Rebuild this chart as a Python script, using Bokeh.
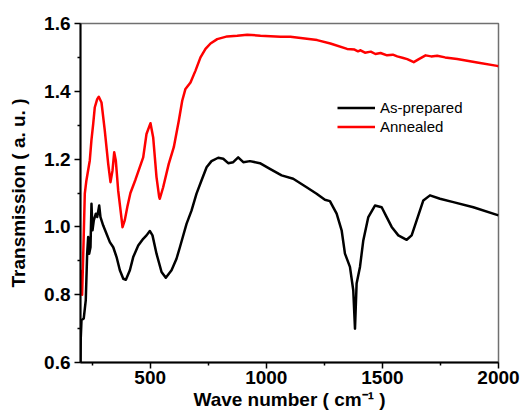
from bokeh.plotting import figure
from bokeh.models import Range1d, FixedTicker, Legend, LegendItem, PrintfTickFormatter
from bokeh.embed import file_html
from bokeh.resources import INLINE

# As-prepared (black)
asprep_x = [200, 201, 204.3, 214, 222.6, 228.7, 233, 237.3, 243, 247.3, 251.7, 257.3, 266, 272,
            280.6, 286, 297.8, 312, 326.4, 341, 355.3, 369.5, 384.2, 395.4, 412.6, 427, 448.6,
            470, 484.2, 498.4, 510, 527.3, 549, 567.4, 592, 613.4, 628, 656.6, 678, 699.6, 721,
            743, 764, 793, 814.7, 836, 857.6, 879, 901, 929.6, 972.6, 1015.7, 1066, 1116, 1173.6,
            1216.7, 1252.5, 1274, 1303, 1324.5, 1338.8, 1360.3, 1374.6, 1382, 1389, 1403.5,
            1417.8, 1439.4, 1468, 1497, 1518.5, 1540, 1568.6, 1604.6, 1626, 1647.6, 1676.3,
            1705, 1748, 1805.6, 1891.7, 2000]
asprep_y = [0.60, 0.67, 0.725, 0.73, 0.783, 0.921, 0.97, 0.921, 0.94, 1.068, 0.99, 1.019, 1.039,
            1.029, 1.063, 1.029, 1.004, 0.98, 0.955, 0.94, 0.911, 0.872, 0.847, 0.844, 0.872,
            0.911, 0.945, 0.965, 0.975, 0.988, 0.975, 0.921, 0.867, 0.850, 0.872, 0.906, 0.940,
            1.009, 1.048, 1.098, 1.137, 1.176, 1.194, 1.204, 1.201, 1.188, 1.191, 1.205, 1.191,
            1.194, 1.188, 1.171, 1.152, 1.142, 1.117, 1.098, 1.080, 1.076, 1.039, 0.990, 0.921,
            0.882, 0.813, 0.700, 0.833, 0.882, 0.960, 1.029, 1.063, 1.058, 1.029, 1.0, 0.975,
            0.962, 0.975, 1.019, 1.078, 1.093, 1.083, 1.073, 1.058, 1.034]

# Annealed (red)
anneal_x = [200, 204.3, 207, 213, 218.5, 225.4, 240, 247, 254.7, 261.6, 271.9, 278.8, 290.4,
            304.6, 319.3, 329.2, 337.8, 345.1, 352, 362.3, 376.6, 381, 390.8, 402, 415, 437, 470,
            484.2, 501.4, 513, 527.3, 538.9, 541.5, 556, 580, 601.8, 623.3, 638, 652, 673.7,
            695.2, 716.7, 738.3, 759.8, 788.7, 831.7, 874.8, 917.9, 975, 1061, 1104, 1219, 1276,
            1348, 1380, 1395, 1406, 1425, 1450, 1470, 1492, 1520, 1545, 1564, 1590, 1607, 1635,
            1657, 1686, 1710, 1736, 1770, 1822, 1908, 1994, 2000]
anneal_y = [0.81, 0.87, 0.80, 0.95, 1.098, 1.137, 1.196, 1.255, 1.304, 1.353, 1.377, 1.384, 1.367,
            1.284, 1.186, 1.132, 1.166, 1.220, 1.196, 1.107, 1.025, 0.999, 1.02, 1.06, 1.10, 1.14,
            1.205, 1.274, 1.306, 1.264, 1.147, 1.088, 1.083, 1.117, 1.186, 1.235, 1.313, 1.372,
            1.407, 1.426, 1.461, 1.500, 1.525, 1.541, 1.554, 1.562, 1.564, 1.567, 1.564, 1.561,
            1.561, 1.551, 1.541, 1.525, 1.523, 1.518, 1.521, 1.514, 1.517, 1.510, 1.513, 1.506,
            1.508, 1.503, 1.498, 1.495, 1.486, 1.495, 1.506, 1.503, 1.505, 1.500, 1.495, 1.485,
            1.475, 1.474]

x_major = [500, 1000, 1500, 2000]
x_minor = [250, 750, 1250, 1750]
y_major = [0.6, 0.8, 1.0, 1.2, 1.4, 1.6]
y_minor = [0.7, 0.9, 1.1, 1.3, 1.5]

FONT = "Liberation Sans"

p = figure(width=522, height=418, output_backend="svg", toolbar_location=None,
           x_range=Range1d(200, 2000), y_range=Range1d(0.6, 1.6),
           min_border_left=80, min_border_right=24, min_border_top=23, min_border_bottom=56)
p.grid.visible = False
p.outline_line_color = "#707070"
p.outline_line_width = 1.5
p.background_fill_color = "white"
p.border_fill_color = "white"

r_black = p.line(asprep_x, asprep_y, line_color="black", line_width=2.5, line_join="round")
r_red = p.line(anneal_x, anneal_y, line_color="red", line_width=2.5, line_join="round")

p.xaxis.ticker = FixedTicker(ticks=x_major, minor_ticks=x_minor)
p.yaxis.ticker = FixedTicker(ticks=y_major, minor_ticks=y_minor)
p.yaxis.formatter = PrintfTickFormatter(format="%.1f")

for ax in (p.xaxis[0], p.yaxis[0]):
    ax.axis_line_width = 2
    ax.axis_line_color = "black"
    ax.major_tick_line_width = 1.5
    ax.minor_tick_line_width = 1.5
    ax.major_tick_in = 0
    ax.major_tick_out = 6
    ax.minor_tick_in = 0
    ax.minor_tick_out = 3
    ax.major_label_text_font = FONT
    ax.major_label_text_font_style = "bold"
    ax.major_label_text_font_size = "19px"
    ax.major_label_text_color = "black"
    ax.axis_label_text_font = FONT
    ax.axis_label_text_font_style = "bold"
    ax.axis_label_text_font_size = "19px"
    ax.axis_label_text_color = "black"

p.xaxis.major_label_standoff = 2
p.yaxis.major_label_standoff = 4
p.xaxis.axis_label = "Wave number ( cm\u207b\u00b9 )"
p.yaxis.axis_label = "Transmission ( a. u. )"
p.xaxis.axis_label_standoff = 2
p.yaxis.axis_label_standoff = 12

legend = Legend(items=[LegendItem(label="As-prepared", renderers=[r_black]),
                       LegendItem(label="Annealed", renderers=[r_red])],
                location=(257, 226), padding=0, margin=0, spacing=0,
                glyph_width=38, glyph_height=19, label_height=19, label_standoff=5,
                label_text_font=FONT, label_text_font_size="15px", label_text_color="black",
                border_line_alpha=0, background_fill_alpha=0)
p.add_layout(legend)

open("out.html", "w").write(file_html(p, INLINE))
